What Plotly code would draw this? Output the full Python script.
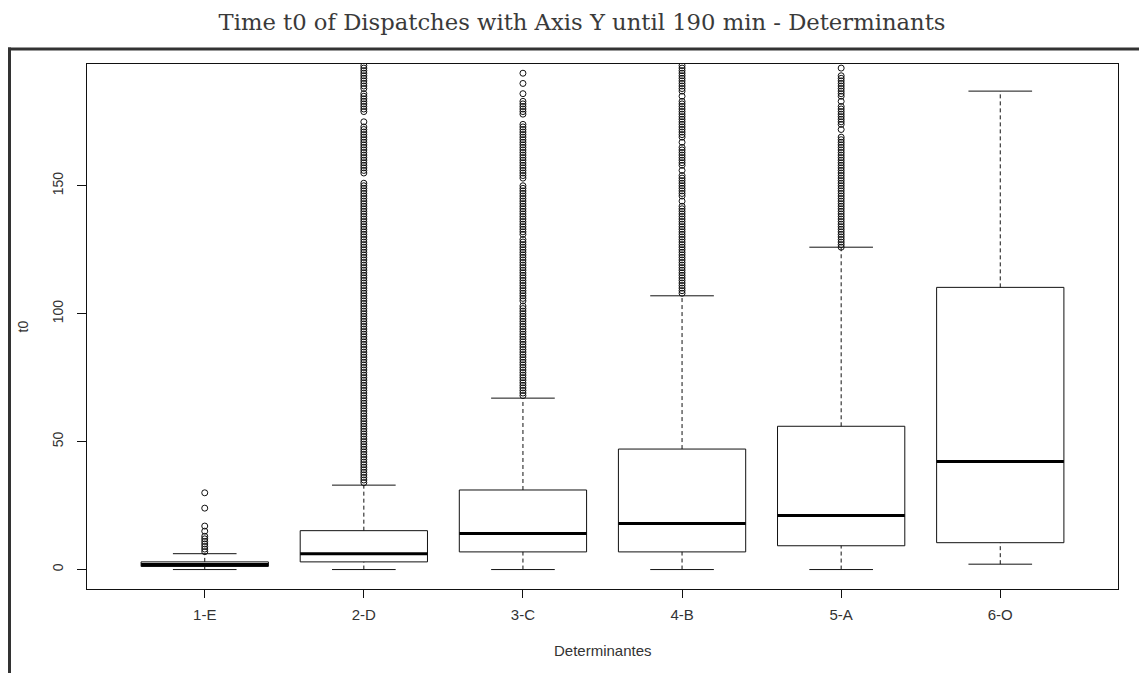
import plotly.graph_objects as go

# ---------------- data ----------------
categories = ["1-E", "2-D", "3-C", "4-B", "5-A", "6-O"]
whisker_low = [0, 0, 0, 0, 0, 2.1]
q1 = [1.2, 3.0, 6.9, 6.9, 9.3, 10.5]
median = [2.0, 6.2, 14.1, 18.0, 21.1, 42.2]
q3 = [3.0, 15.2, 31.1, 47.1, 56.0, 110.3]
whisker_high = [6.2, 33.0, 67.0, 107.0, 126.0, 187.0]

outliers_1E = [7, 8, 9, 10, 11, 12, 13, 15, 17, 24, 30]
outliers_2D = [34, 35, 36, 37, 38, 39, 40, 41, 42, 43, 44, 45, 46, 47, 48, 49,
               50, 51, 52, 53, 54, 55, 56, 57, 58, 59, 60, 61, 62, 63, 64, 65,
               66, 67, 68, 69, 70, 71, 72, 73, 74, 75, 76, 77, 78, 79, 80, 81,
               82, 83, 84, 85, 86, 87, 88, 89, 90, 91, 92, 93, 94, 95, 96, 97,
               98, 99, 100, 101, 102, 103, 104, 105, 106, 107, 108, 109, 110,
               111, 112, 113, 114, 115, 116, 117, 118, 119, 120, 121, 122, 123,
               124, 125, 126, 127, 128, 129, 130, 131, 132, 133, 134, 135, 136,
               137, 138, 139, 140, 141, 142, 143, 144, 145, 146, 147, 148, 149,
               150, 151, 155, 156, 157, 158, 159, 160, 161, 162, 163, 164, 165,
               166, 167, 168, 169, 170, 171, 172, 173, 175, 179, 180, 181, 182,
               183, 184, 185, 186, 188, 189, 190, 191, 192, 193, 194, 195, 196,
               197]
outliers_3C = [68, 69, 70, 71, 72, 73, 74, 75, 76, 77, 78, 79, 80, 81, 82, 83,
               84, 85, 86, 87, 88, 89, 90, 91, 92, 93, 94, 95, 96, 97, 98, 99,
               100, 101, 102, 103, 105, 106, 107, 108, 109, 110, 111, 112, 113,
               114, 115, 116, 117, 118, 119, 120, 121, 122, 123, 124, 125, 126,
               127, 128, 129, 131, 132, 133, 134, 135, 136, 137, 138, 139, 140,
               141, 142, 143, 144, 145, 146, 147, 148, 149, 150, 153, 154, 155,
               156, 157, 158, 159, 160, 161, 162, 163, 164, 165, 166, 167, 168,
               169, 170, 171, 172, 173, 174, 178, 179, 180, 181, 182, 183, 186,
               190, 194]
outliers_4B = [108, 109, 110, 111, 112, 113, 114, 115, 116, 117, 118, 119, 120,
               121, 122, 123, 124, 125, 126, 127, 128, 129, 130, 131, 132, 133,
               134, 135, 136, 137, 138, 139, 140, 141, 142, 144, 146, 147, 148,
               149, 150, 151, 152, 153, 154, 156, 158, 159, 160, 161, 162, 163,
               164, 165, 167, 169, 170, 171, 172, 173, 174, 175, 176, 177, 178,
               179, 180, 181, 182, 183, 185, 187, 188, 189, 190, 191, 192, 193,
               194, 195, 196, 197]
outliers_5A = [126, 127, 128, 129, 130, 131, 132, 133, 134, 135, 136, 137, 138,
               139, 140, 141, 142, 143, 144, 145, 146, 147, 148, 149, 150, 151,
               152, 153, 154, 155, 156, 157, 158, 159, 160, 161, 162, 163, 164,
               165, 166, 167, 168, 169, 172, 174, 175, 176, 177, 178, 179, 180,
               181, 183, 185, 186, 187, 188, 189, 190, 191, 192, 193, 196]
outliers_6O = []
outliers = [outliers_1E, outliers_2D, outliers_3C, outliers_4B, outliers_5A, outliers_6O]

y_ticks = [0, 50, 100, 150]
y_range = [-7.6, 197.6]

title_text = "Time t0 of Dispatches with Axis Y until 190 min - Determinants"
x_title = "Determinantes"
y_title = "t0"

# ---------------- geometry helpers ----------------
BOX_HALF = 0.4
CAP_HALF = 0.2
positions = list(range(1, len(categories) + 1))

box_x, box_y = [], []
med_x, med_y = [], []
wh_x, wh_y = [], []
cap_x, cap_y = [], []
out_x, out_y = [], []
for i, p in enumerate(positions):
    box_x += [p - BOX_HALF, p + BOX_HALF, p + BOX_HALF, p - BOX_HALF, p - BOX_HALF, None]
    box_y += [q1[i], q1[i], q3[i], q3[i], q1[i], None]
    med_x += [p - BOX_HALF, p + BOX_HALF, None]
    med_y += [median[i], median[i], None]
    wh_x += [p, p, None, p, p, None]
    wh_y += [q3[i], whisker_high[i], None, whisker_low[i], q1[i], None]
    cap_x += [p - CAP_HALF, p + CAP_HALF, None, p - CAP_HALF, p + CAP_HALF, None]
    cap_y += [whisker_high[i], whisker_high[i], None, whisker_low[i], whisker_low[i], None]
    out_x += [p] * len(outliers[i])
    out_y += outliers[i]

line_col = "#111111"
text_col = "#333333"

# The page body has an 8px default margin; figure pixel coords are page - 8.
W, H = 1139, 665
ML, MR, MT, MB = 79, 29, 56, 84
PW = W - ML - MR   # plot width in px
PH = H - MT - MB   # plot height in px
PLOT_LEFT, PLOT_BOTTOM = ML, H - MB  # in figure pixel coords


def px_x(x):
    return (x - PLOT_LEFT) / PW


def px_y(y):
    return (PLOT_BOTTOM - y) / PH


fig = go.Figure()
fig.add_trace(go.Scatter(x=wh_x, y=wh_y, mode="lines",
                         line=dict(color=line_col, width=1, dash="4px,3px"),
                         hoverinfo="skip", showlegend=False))
fig.add_trace(go.Scatter(x=cap_x, y=cap_y, mode="lines",
                         line=dict(color=line_col, width=1),
                         hoverinfo="skip", showlegend=False))
fig.add_trace(go.Scatter(x=box_x, y=box_y, mode="lines",
                         line=dict(color=line_col, width=1),
                         hoverinfo="skip", showlegend=False))
fig.add_trace(go.Scatter(x=med_x, y=med_y, mode="lines",
                         line=dict(color="#000000", width=3),
                         hoverinfo="skip", showlegend=False))
fig.add_trace(go.Scatter(x=out_x, y=out_y, mode="markers",
                         marker=dict(symbol="circle-open", size=6,
                                     color=line_col, line=dict(width=1)),
                         hoverinfo="skip", showlegend=False))

fig.update_layout(
    width=W, height=H,
    margin=dict(l=ML, r=MR, t=MT, b=MB),
    paper_bgcolor="white", plot_bgcolor="white",
    font=dict(family="Liberation Sans, Arial, sans-serif", size=15, color=text_col),
    title=dict(text=title_text, x=px_x(574), xref="paper", xanchor="center",
               y=1 - 14 / H, yref="container", yanchor="middle",
               font=dict(family="DejaVu Serif, serif", size=22.7, color="#3a3a3a")),
    xaxis=dict(range=[0.26, 6.74], tickvals=positions, ticktext=categories,
               ticks="outside", ticklen=8, tickcolor=line_col,
               showline=True, mirror=True, linecolor=line_col, linewidth=1,
               showgrid=False, zeroline=False, ticklabelstandoff=4,
               tickfont=dict(size=15, color=text_col)),
    yaxis=dict(range=y_range, tickvals=y_ticks, ticktext=[str(v) for v in y_ticks],
               ticks="outside", ticklen=9, tickcolor=line_col, tickangle=-90,
               showline=True, mirror=True, linecolor=line_col, linewidth=1,
               showgrid=False, zeroline=False, ticklabelstandoff=8,
               tickfont=dict(size=14, color=text_col)),
    annotations=[
        dict(text=x_title, xref="paper", yref="paper", x=0.5, y=px_y(642),
             xanchor="center", yanchor="middle", showarrow=False,
             font=dict(size=15, color=text_col)),
        dict(text=y_title, xref="paper", yref="paper", x=px_x(14), y=0.5,
             xanchor="center", yanchor="middle", showarrow=False, textangle=-90,
             font=dict(size=14, color=text_col)),
    ],
    shapes=[
        dict(type="line", xref="paper", yref="paper",
             x0=px_x(0), x1=px_x(W + 5),
             y0=px_y(41), y1=px_y(41),
             line=dict(color="#333333", width=3)),
        dict(type="line", xref="paper", yref="paper",
             x0=px_x(1.5), x1=px_x(1.5),
             y0=px_y(39.5), y1=px_y(H + 5),
             line=dict(color="#333333", width=3)),
    ],
)

fig.write_html("out.html")
